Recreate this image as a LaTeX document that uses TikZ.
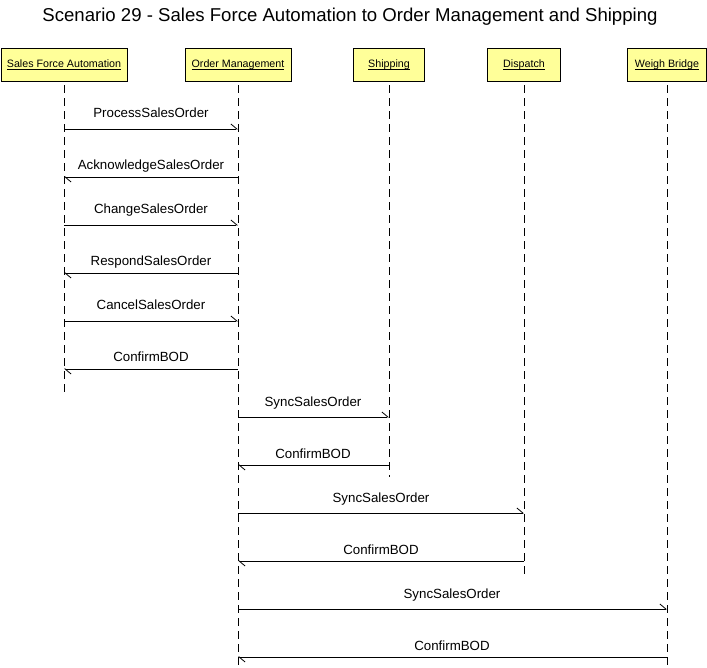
\documentclass[tikz,border=0pt]{standalone}
\usepackage{fontspec}
\setmainfont{Liberation Sans}
\usetikzlibrary{arrows.meta}

\definecolor{boxyellow}{RGB}{255,255,153}

\newcommand{\actorname}[1]{\setbox0\hbox{#1}\rlap{\rule[-1.7pt]{\wd0}{0.6pt}}\box0}

\tikzset{
    actor/.style={draw, fill=boxyellow, inner sep=0pt, minimum height=33pt, text height=8pt, text depth=2pt, font=\fontsize{10.7}{12}\selectfont},
    life/.style={dash pattern=on 8pt off 5pt, dash phase=9pt},
    msg/.style={-{Straight Barb[left, length=6pt, width=10pt]}},
    msglabel/.style={anchor=base, inner sep=0pt, font=\fontsize{13.3}{15}\selectfont}
}

\begin{document}
\begin{tikzpicture}[x=1pt, y=-1pt, line width=0.8pt]

    \useasboundingbox (0,0) rectangle (707,668);

    \node [anchor=base, inner sep=0pt, font=\fontsize{18.6}{22}\selectfont] (title) at (350, 22) {Scenario 29 - Sales Force Automation to Order Management and Shipping};

    \node [actor, minimum width=126pt] (sfa)  at (64,  64.5) {\actorname{Sales Force Automation}};
    \node [actor, minimum width=106pt] (om)   at (238, 64.5) {\actorname{Order Management}};
    \node [actor, minimum width=71pt]  (ship) at (389, 64.5) {\actorname{Shipping}};
    \node [actor, minimum width=73pt]  (disp) at (524, 64.5) {\actorname{Dispatch}};
    \node [actor, minimum width=79pt]  (wb)   at (667, 64.5) {\actorname{Weigh Bridge}};

    \coordinate (sfaend)  at (64,  393);
    \coordinate (omend)   at (238, 668);
    \coordinate (shipend) at (389, 477);
    \coordinate (dispend) at (524, 577);
    \coordinate (wbend)   at (667, 668);

    \draw [life] (sfa.south)  -- (sfaend);
    \draw [life] (om.south)   -- (omend);
    \draw [life] (ship.south) -- (shipend);
    \draw [life] (disp.south) -- (dispend);
    \draw [life] (wb.south)   -- (wbend);

    \coordinate (S1) at (64,  129);
    \coordinate (O1) at (238, 129);
    \coordinate (S2) at (64,  177);
    \coordinate (O2) at (238, 177);
    \coordinate (S3) at (64,  225);
    \coordinate (O3) at (238, 225);
    \coordinate (S4) at (64,  273);
    \coordinate (O4) at (238, 273);
    \coordinate (S5) at (64,  321);
    \coordinate (O5) at (238, 321);
    \coordinate (S6) at (64,  369);
    \coordinate (O6) at (238, 369);

    \coordinate (O7)  at (238, 417);
    \coordinate (SH7) at (389, 417);
    \coordinate (O8)  at (238, 465);
    \coordinate (SH8) at (389, 465);
    \coordinate (O9)  at (238, 513);
    \coordinate (D9)  at (524, 513);
    \coordinate (O10) at (238, 561);
    \coordinate (D10) at (524, 561);
    \coordinate (O11) at (238, 609);
    \coordinate (W11) at (667, 609);
    \coordinate (O12) at (238, 657);
    \coordinate (W12) at (667, 657);

    \draw [msg] (S1) -- (O1);
    \draw [msg] (O2) -- (S2);
    \draw [msg] (S3) -- (O3);
    \draw [msg] (O4) -- (S4);
    \draw [msg] (S5) -- (O5);
    \draw [msg] (O6) -- (S6);
    \draw [msg] (O7) -- (SH7);
    \draw [msg] (SH8) -- (O8);
    \draw [msg] (O9) -- (D9);
    \draw [msg] (D10) -- (O10);
    \draw [msg] (O11) -- (W11);
    \draw [msg] (W12) -- (O12);

    \node [msglabel] (m1)  at (151, 118) {ProcessSalesOrder};
    \node [msglabel] (m2)  at (151, 170) {AcknowledgeSalesOrder};
    \node [msglabel] (m3)  at (151, 214) {ChangeSalesOrder};
    \node [msglabel] (m4)  at (151, 266) {RespondSalesOrder};
    \node [msglabel] (m5)  at (151, 310) {CancelSalesOrder};
    \node [msglabel] (m6)  at (151, 362) {ConfirmBOD};
    \node [msglabel] (m7)  at (313, 406) {SyncSalesOrder};
    \node [msglabel] (m8)  at (313, 458) {ConfirmBOD};
    \node [msglabel] (m9)  at (381, 502) {SyncSalesOrder};
    \node [msglabel] (m10) at (381, 554) {ConfirmBOD};
    \node [msglabel] (m11) at (452, 598) {SyncSalesOrder};
    \node [msglabel] (m12) at (452, 650) {ConfirmBOD};

\end{tikzpicture}
\end{document}
